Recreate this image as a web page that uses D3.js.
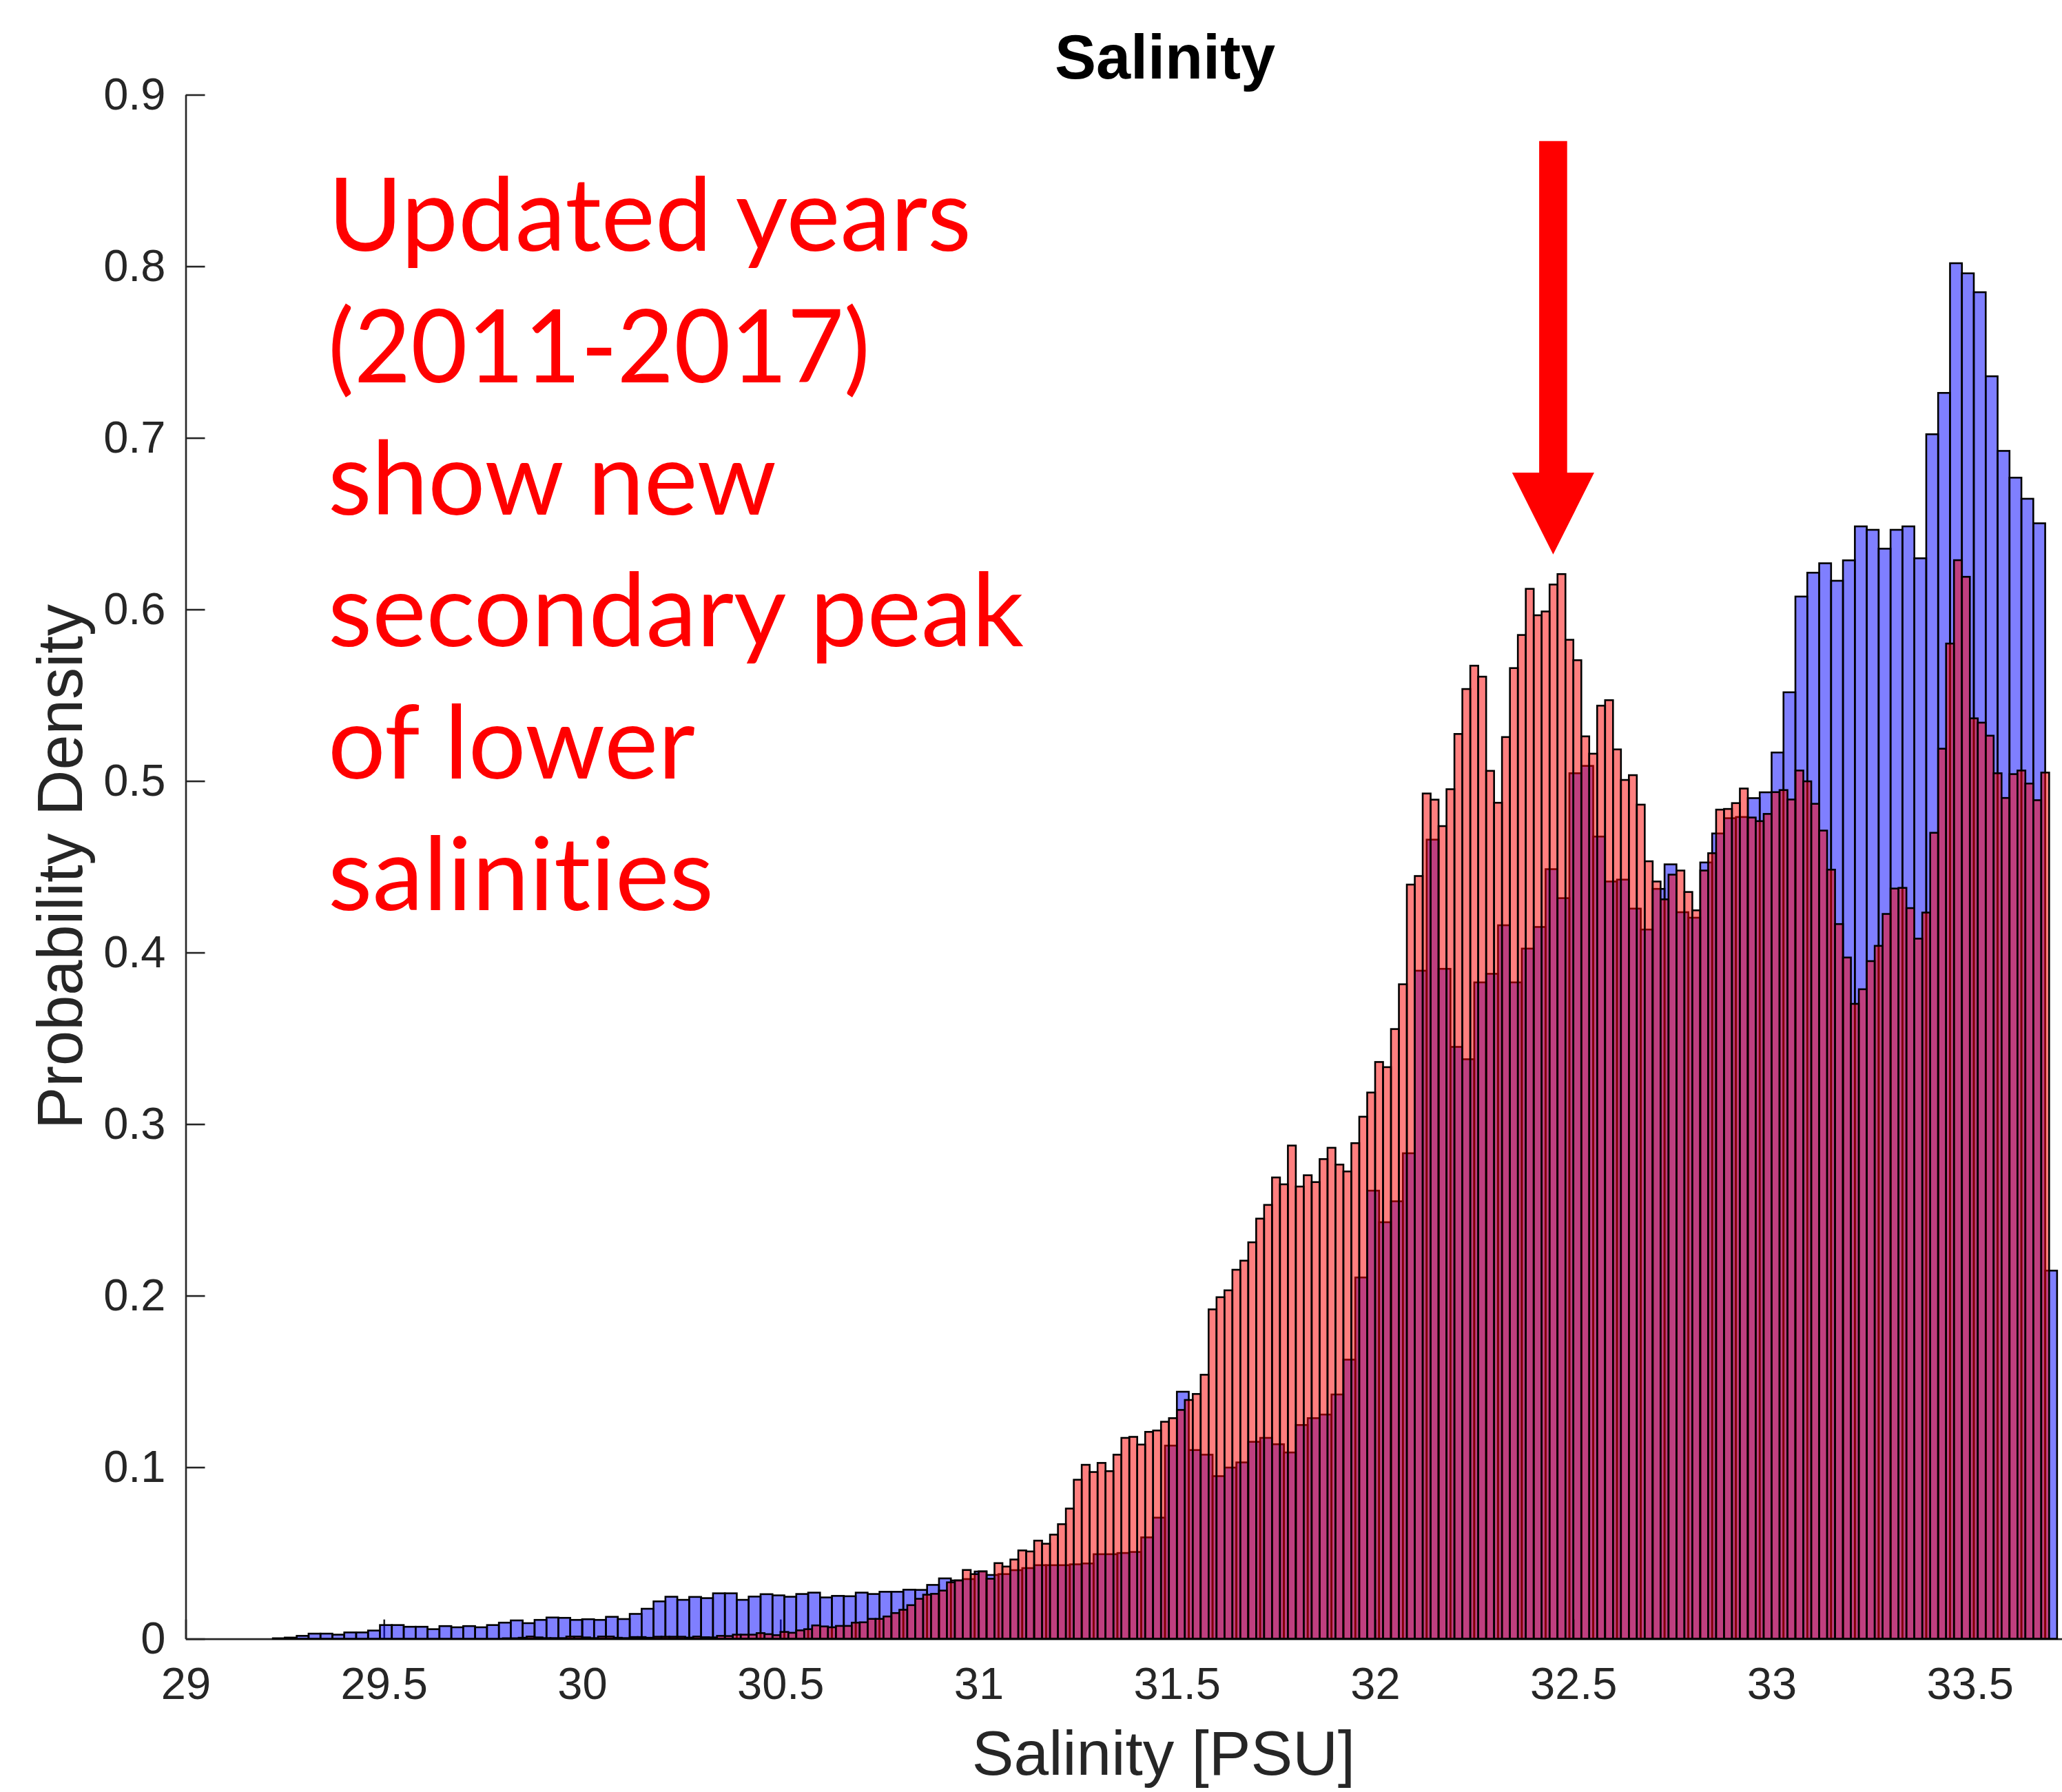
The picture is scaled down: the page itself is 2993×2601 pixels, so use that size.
<!DOCTYPE html>
<html>
<head>
<meta charset="utf-8">
<script src="https://cdn.jsdelivr.net/npm/d3@7"></script>
<style>
  html, body { margin: 0; padding: 0; background: #fff; }
  svg { display: block; }
</style>
</head>
<body>
<svg id="chart"></svg>
<script>
// Blue histogram (full record): bins 0.03 PSU wide, first left edge 29.22
const blueStart = 29.22;
const blueWidth = 0.03;
const blueDensity = [
  0.0003, 0.0007, 0.0017, 0.0030, 0.0030, 0.0024, 0.0037, 0.0037, 0.0048, 0.0080,
  0.0080, 0.0070, 0.0070, 0.0056, 0.0074, 0.0067, 0.0074, 0.0067, 0.0080, 0.0094,
  0.0107, 0.0091, 0.0110, 0.0124, 0.0122, 0.0110, 0.0114, 0.0110, 0.0128, 0.0115,
  0.0145, 0.0175, 0.0218, 0.0245, 0.0227, 0.0244, 0.0237, 0.0265, 0.0265, 0.0227,
  0.0246, 0.0260, 0.0253, 0.0245, 0.0261, 0.0269, 0.0241, 0.0250, 0.0248, 0.0269,
  0.0261, 0.0274, 0.0274, 0.0286, 0.0285, 0.0314, 0.0352, 0.0340, 0.0348, 0.0392,
  0.0372, 0.0377, 0.0400, 0.0412, 0.0429, 0.0429, 0.0429, 0.0434, 0.0439, 0.0493,
  0.0493, 0.0500, 0.0506, 0.0591, 0.0706, 0.1126, 0.1440, 0.1100, 0.1073, 0.0948,
  0.0998, 0.1028, 0.1148, 0.1171, 0.1134, 0.1086, 0.1246, 0.1286, 0.1307, 0.1424,
  0.1627, 0.2106, 0.2612, 0.2428, 0.2550, 0.2830, 0.3894, 0.4658, 0.3905, 0.3450,
  0.3378, 0.3826, 0.3876, 0.4159, 0.3826, 0.4023, 0.4149, 0.4486, 0.4317, 0.5045,
  0.5088, 0.4676, 0.4414, 0.4425, 0.4256, 0.4134, 0.4371, 0.4514, 0.4235, 0.4203,
  0.4525, 0.4694, 0.4783, 0.4790, 0.4900, 0.4934, 0.5166, 0.5517, 0.6075, 0.6214,
  0.6269, 0.6167, 0.6286, 0.6484, 0.6464, 0.6354, 0.6464, 0.6484, 0.6298, 0.7021,
  0.7262, 0.8018, 0.7959, 0.7849, 0.7359, 0.6924, 0.6768, 0.6645, 0.6502, 0.2146
];

// Red histogram (updated years 2011-2017): bins 0.02 PSU wide, first left edge 29.80
const redStart = 29.80;
const redWidth = 0.02;
const redDensity = [
  0.0003, 0.0003, 0.0006, 0.0013, 0.0008, 0.0004, 0.0004, 0.0004, 0.0013, 0.0013,
  0.0008, 0.0004, 0.0013, 0.0013, 0.0006, 0.0004, 0.0010, 0.0010, 0.0006, 0.0012,
  0.0012, 0.0012, 0.0012, 0.0007, 0.0013, 0.0009, 0.0008, 0.0017, 0.0016, 0.0024,
  0.0024, 0.0024, 0.0033, 0.0027, 0.0021, 0.0040, 0.0035, 0.0049, 0.0056, 0.0078,
  0.0072, 0.0067, 0.0075, 0.0075, 0.0094, 0.0096, 0.0116, 0.0116, 0.0130, 0.0150,
  0.0169, 0.0196, 0.0233, 0.0257, 0.0262, 0.0281, 0.0329, 0.0340, 0.0401, 0.0377,
  0.0393, 0.0350, 0.0441, 0.0421, 0.0462, 0.0515, 0.0509, 0.0572, 0.0554, 0.0607,
  0.0668, 0.0759, 0.0927, 0.1014, 0.0972, 0.1025, 0.0977, 0.1073, 0.1171, 0.1177,
  0.1132, 0.1206, 0.1214, 0.1265, 0.1286, 0.1334, 0.1392, 0.1427, 0.1539, 0.1920,
  0.1991, 0.2031, 0.2151, 0.2204, 0.2311, 0.2449, 0.2529, 0.2689, 0.2649, 0.2875,
  0.2636, 0.2702, 0.2662, 0.2796, 0.2862, 0.2764, 0.2724, 0.2889, 0.3043, 0.3184,
  0.3362, 0.3332, 0.3554, 0.3815, 0.4396, 0.4446, 0.4927, 0.4891, 0.4737, 0.4952,
  0.5274, 0.5536, 0.5672, 0.5608, 0.5059, 0.4873, 0.5256, 0.5658, 0.5851, 0.6120,
  0.5966, 0.5988, 0.6145, 0.6206, 0.5823, 0.5704, 0.5260, 0.5159, 0.5439, 0.5471,
  0.5184, 0.5006, 0.5034, 0.4862, 0.4532, 0.4414, 0.4310, 0.4454, 0.4478, 0.4353,
  0.4246, 0.4478, 0.4579, 0.4833, 0.4837, 0.4871, 0.4956, 0.4787, 0.4766, 0.4808,
  0.4935, 0.4947, 0.4892, 0.5061, 0.4998, 0.4867, 0.4711, 0.4483, 0.4166, 0.3971,
  0.3701, 0.3786, 0.3950, 0.4039, 0.4225, 0.4373, 0.4377, 0.4259, 0.4081, 0.4233,
  0.4698, 0.5188, 0.5801, 0.6287, 0.6190, 0.5365, 0.5340, 0.5264, 0.5045, 0.4901,
  0.5040, 0.5061, 0.4985, 0.4888, 0.5049
];

const xTicks = [29, 29.5, 30, 30.5, 31, 31.5, 32, 32.5, 33, 33.5];
const yTicks = [0, 0.1, 0.2, 0.3, 0.4, 0.5, 0.6, 0.7, 0.8, 0.9];
const noteLines = ["Updated years", "(2011-2017)", "show new", "secondary peak", "of lower", "salinities"];
// rendered width of each note line in the picture (px)
const noteWidths = [934, 787, 651, 1010, 533, 560];

const width = 2993, height = 2601;
const axisColor = "#262626";
const sans = "'Liberation Sans', Arial, Helvetica, sans-serif";
const noteFont = "Lato, 'Open Sans', sans-serif";

const svg = d3.select("#chart")
    .attr("width", width)
    .attr("height", height)
    .style("background", "#fff");

// the screenshot cuts the axes off on the right, so the range runs past the canvas
const x = d3.scaleLinear().domain([29, 33.94]).range([269.5, 269.5 + 4.94 * 575.5]);
const y = d3.scaleLinear().domain([0, 0.9]).range([2378.6, 137.5]);

// axes first so the translucent bars sit over the tick marks
const xAxis = svg.append("g")
    .attr("transform", `translate(0, ${y(0)})`)
    .call(d3.axisBottom(x)
        .tickValues(xTicks)
        .tickSizeInner(-28)
        .tickSizeOuter(0)
        .tickPadding(41)
        .tickFormat(d => String(+d.toFixed(1))));

const yAxis = svg.append("g")
    .attr("transform", `translate(${x(29)}, 0)`)
    .call(d3.axisLeft(y)
        .tickValues(yTicks)
        .tickSizeInner(-28)
        .tickSizeOuter(0)
        .tickPadding(29)
        .tickFormat(d => String(+d.toFixed(1))));

[xAxis, yAxis].forEach(g => {
    g.select(".domain").attr("stroke", axisColor).attr("stroke-width", 2.6);
    g.selectAll(".tick line").attr("stroke", axisColor).attr("stroke-width", 2.6);
    g.selectAll(".tick text")
        .attr("fill", axisColor)
        .style("font-family", sans)
        .style("font-size", "65px");
});

function drawHist(data, start, binWidth, color, cls) {
    const bins = data.map((v, i) => ({ x0: start + i * binWidth, x1: start + (i + 1) * binWidth, v: v }));
    svg.append("g").attr("class", cls)
        .selectAll("rect")
        .data(bins)
        .enter().append("rect")
        .attr("x", d => x(d.x0))
        .attr("width", d => x(d.x1) - x(d.x0))
        .attr("y", d => y(d.v))
        .attr("height", d => y(0) - y(d.v))
        .attr("fill", color)
        .attr("fill-opacity", 0.5)
        .attr("stroke", "#000")
        .attr("stroke-width", 2.6);
}

drawHist(blueDensity, blueStart, blueWidth, "#0000ff", "blue-hist");
drawHist(redDensity, redStart, redWidth, "#ff0000", "red-hist");

// title and axis labels
svg.append("text")
    .attr("x", (x.range()[0] + x.range()[1]) / 2)
    .attr("y", 114)
    .attr("text-anchor", "middle")
    .style("font-family", sans)
    .style("font-weight", "bold")
    .style("font-size", "90px")
    .attr("fill", "#000")
    .text("Salinity");

svg.append("text")
    .attr("x", 1689)
    .attr("y", 2576)
    .attr("text-anchor", "middle")
    .style("font-family", sans)
    .style("font-size", "91px")
    .attr("fill", axisColor)
    .text("Salinity [PSU]");

svg.append("text")
    .attr("transform", `translate(119, ${(y(0) + y(0.9)) / 2}) rotate(-90)`)
    .attr("text-anchor", "middle")
    .style("font-family", sans)
    .style("font-size", "92px")
    .attr("fill", axisColor)
    .text("Probability Density");

// red annotation text, sized so the longest line matches the picture
const note = svg.append("g").attr("class", "note");
const probe = note.append("text")
    .style("font-family", noteFont)
    .style("font-size", "100px")
    .style("font-variant-ligatures", "none")
    .text("secondary peak");
const noteSize = 100 * 1010 / probe.node().getComputedTextLength();
probe.remove();

note.selectAll("text")
    .data(noteLines)
    .enter().append("text")
    .attr("x", 476)
    .attr("y", (d, i) => 363.5 + i * 191.5)
    .attr("textLength", (d, i) => noteWidths[i])
    .attr("lengthAdjust", "spacingAndGlyphs")
    .style("font-family", noteFont)
    .style("font-size", noteSize + "px")
    .style("font-variant-ligatures", "none")
    .attr("fill", "#ff0000")
    .text(d => d);

// arrow pointing at the new secondary peak
const arrowX = 32.449, arrowTop = 0.873, arrowNeck = 0.6797, arrowTip = 0.632;
const shaftHalf = 20.3, headHalf = 59.6;
const ax = x(arrowX);
svg.append("path")
    .attr("d", [
        [ax - shaftHalf, y(arrowTop)], [ax + shaftHalf, y(arrowTop)],
        [ax + shaftHalf, y(arrowNeck)], [ax + headHalf, y(arrowNeck)],
        [ax, y(arrowTip)],
        [ax - headHalf, y(arrowNeck)], [ax - shaftHalf, y(arrowNeck)]
    ].map((p, i) => (i ? "L" : "M") + p[0] + "," + p[1]).join("") + "Z")
    .attr("fill", "#ff0000");
</script>
</body>
</html>
